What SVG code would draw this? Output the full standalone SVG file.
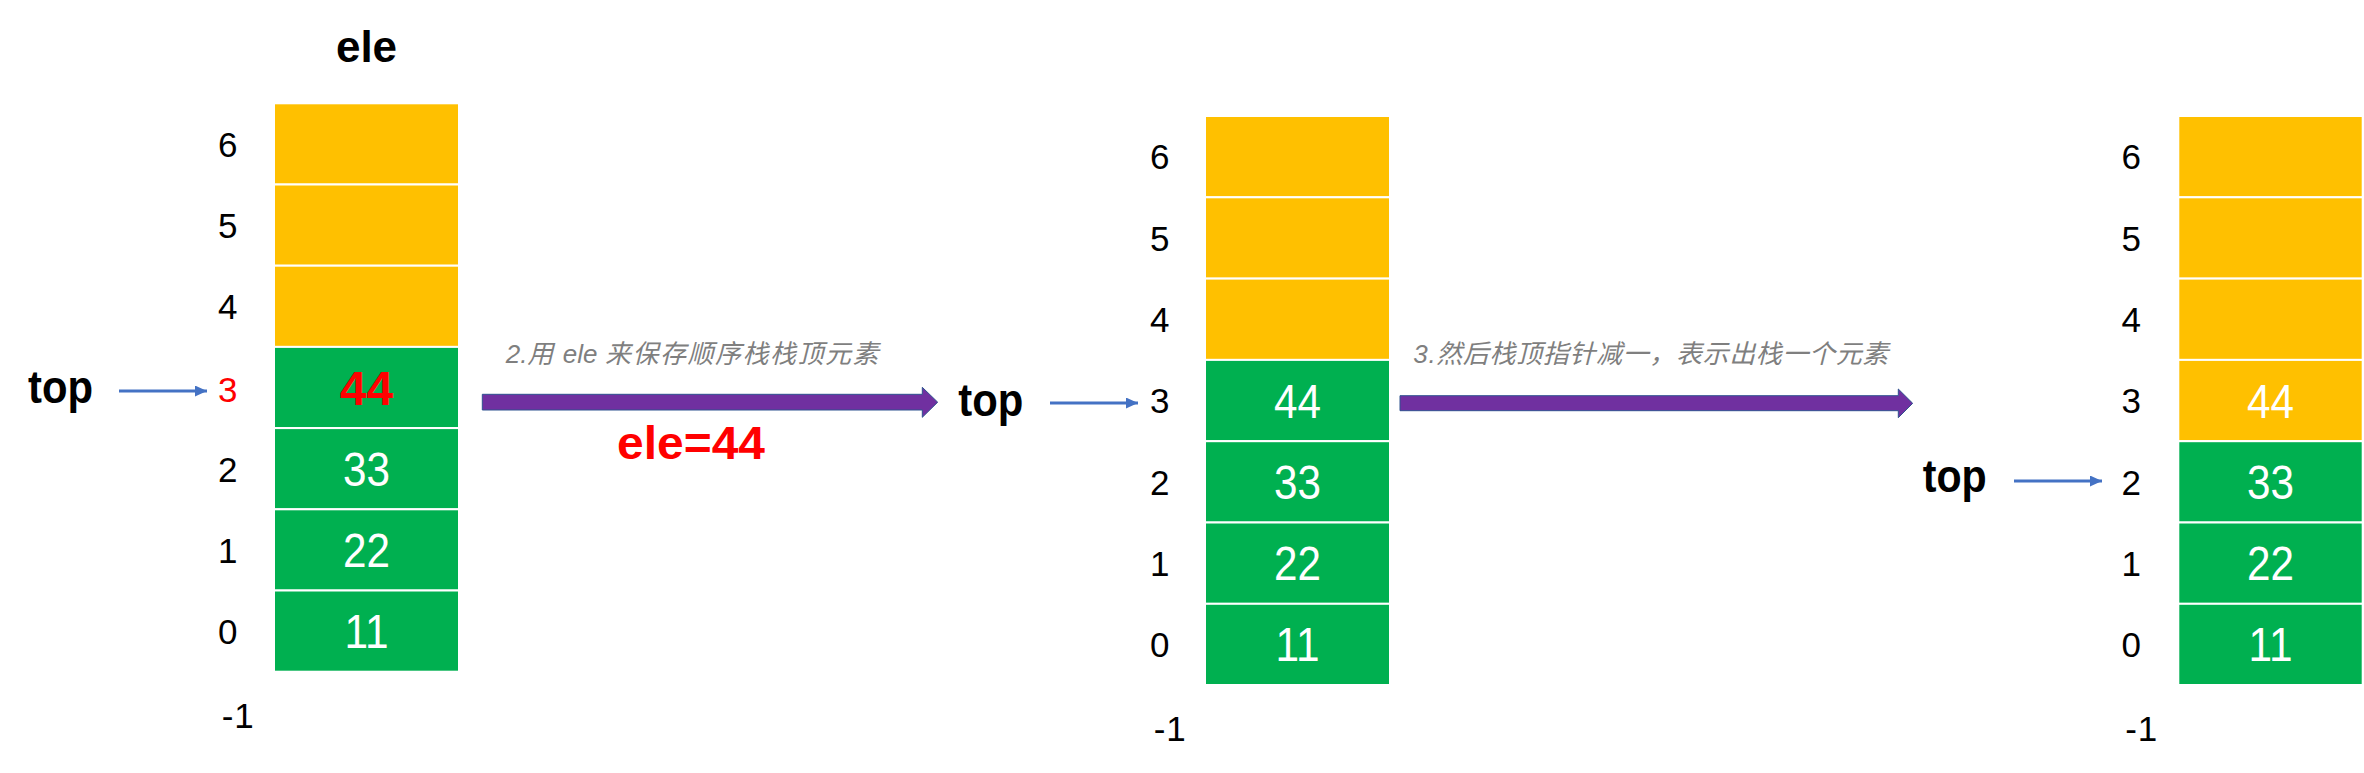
<svg xmlns="http://www.w3.org/2000/svg" width="2364" height="773" viewBox="0 0 2364 773">
<style>
.y{fill:#FFC000;stroke:#fff;stroke-width:2}
.g{fill:#00B050;stroke:#fff;stroke-width:2}
.idx{font-family:"Liberation Sans",Arial,sans-serif;font-size:35px;fill:#000;text-anchor:middle}
.val{font-family:"Liberation Sans",Arial,sans-serif;font-size:48px;fill:#fff;text-anchor:middle}
.top{font-family:"Liberation Sans",Arial,sans-serif;font-size:46px;font-weight:bold;fill:#000}
.cap{font-family:"Liberation Sans","Noto Sans CJK SC",sans-serif;font-size:26px;font-style:italic;fill:#7F7F7F}
.ptr{stroke:#4472C4;stroke-width:3;fill:none}
.big{fill:#7030A0;stroke:#2F528F;stroke-width:1}
</style>
<defs>
<marker id="ah" markerUnits="userSpaceOnUse" markerWidth="13" markerHeight="12" refX="12" refY="5.5" orient="auto">
<path d="M0,0 L12,5.5 L0,11 z" fill="#4472C4"/>
</marker>
</defs>

<g id="stack1">
<text x="366.5" y="62" font-family="Liberation Sans,Arial,sans-serif" font-size="44" font-weight="bold" text-anchor="middle">ele</text>
<rect class="y" x="274" y="103.3" width="185" height="81.2"/>
<rect class="y" x="274" y="184.5" width="185" height="81.2"/>
<rect class="y" x="274" y="265.7" width="185" height="81.2"/>
<rect class="g" x="274" y="346.9" width="185" height="81.2"/>
<rect class="g" x="274" y="428.1" width="185" height="81.2"/>
<rect class="g" x="274" y="509.3" width="185" height="81.2"/>
<rect class="g" x="274" y="590.5" width="185" height="81.2"/>
<text class="val" x="366.5" y="405" style="fill:#FF0000;font-weight:bold">44</text>
<text class="val" x="366.5" y="486" textLength="47" lengthAdjust="spacingAndGlyphs">33</text>
<text class="val" x="366.5" y="567" textLength="47" lengthAdjust="spacingAndGlyphs">22</text>
<text class="val" x="366.5" y="648" textLength="44" lengthAdjust="spacingAndGlyphs">11</text>
<text class="idx" x="227.7" y="156.7">6</text>
<text class="idx" x="227.7" y="237.9">5</text>
<text class="idx" x="227.7" y="319.1">4</text>
<text class="idx" x="227.7" y="401.5" style="fill:#FF0000">3</text>
<text class="idx" x="227.7" y="481.5">2</text>
<text class="idx" x="227.7" y="562.7">1</text>
<text class="idx" x="227.7" y="644">0</text>
<text class="idx" x="221.7" y="728" style="text-anchor:start" textLength="32" lengthAdjust="spacing">-1</text>
<text class="top" x="28" y="402.7" textLength="65" lengthAdjust="spacingAndGlyphs">top</text>
</g>

<g id="stack2">
<rect class="y" x="1205" y="116" width="185" height="81.3"/>
<rect class="y" x="1205" y="197.3" width="185" height="81.3"/>
<rect class="y" x="1205" y="278.6" width="185" height="81.3"/>
<rect class="g" x="1205" y="359.9" width="185" height="81.3"/>
<rect class="g" x="1205" y="441.2" width="185" height="81.3"/>
<rect class="g" x="1205" y="522.5" width="185" height="81.3"/>
<rect class="g" x="1205" y="603.8" width="185" height="81.2"/>
<text class="val" x="1297.5" y="417.5" textLength="47" lengthAdjust="spacingAndGlyphs">44</text>
<text class="val" x="1297.5" y="498.8" textLength="47" lengthAdjust="spacingAndGlyphs">33</text>
<text class="val" x="1297.5" y="580.1" textLength="47" lengthAdjust="spacingAndGlyphs">22</text>
<text class="val" x="1297.5" y="661.4" textLength="44" lengthAdjust="spacingAndGlyphs">11</text>
<text class="idx" x="1159.7" y="169.4">6</text>
<text class="idx" x="1159.7" y="250.7">5</text>
<text class="idx" x="1159.7" y="332">4</text>
<text class="idx" x="1159.7" y="413.3">3</text>
<text class="idx" x="1159.7" y="494.6">2</text>
<text class="idx" x="1159.7" y="575.9">1</text>
<text class="idx" x="1159.7" y="657.2">0</text>
<text class="idx" x="1153.7" y="741" style="text-anchor:start" textLength="32" lengthAdjust="spacing">-1</text>
<text class="top" x="958.3" y="415.6" textLength="65" lengthAdjust="spacingAndGlyphs">top</text>
</g>

<g id="stack3">
<rect class="y" x="2178.3" y="116" width="184.4" height="81.3"/>
<rect class="y" x="2178.3" y="197.3" width="184.4" height="81.3"/>
<rect class="y" x="2178.3" y="278.6" width="184.4" height="81.3"/>
<rect class="y" x="2178.3" y="359.9" width="184.4" height="81.3"/>
<rect class="g" x="2178.3" y="441.2" width="184.4" height="81.3"/>
<rect class="g" x="2178.3" y="522.5" width="184.4" height="81.3"/>
<rect class="g" x="2178.3" y="603.8" width="184.4" height="81.2"/>
<text class="val" x="2270.5" y="417.5" textLength="47" lengthAdjust="spacingAndGlyphs">44</text>
<text class="val" x="2270.5" y="498.8" textLength="47" lengthAdjust="spacingAndGlyphs">33</text>
<text class="val" x="2270.5" y="580.1" textLength="47" lengthAdjust="spacingAndGlyphs">22</text>
<text class="val" x="2270.5" y="661.4" textLength="44" lengthAdjust="spacingAndGlyphs">11</text>
<text class="idx" x="2131.3" y="169.4">6</text>
<text class="idx" x="2131.3" y="250.7">5</text>
<text class="idx" x="2131.3" y="332">4</text>
<text class="idx" x="2131.3" y="413.3">3</text>
<text class="idx" x="2131.3" y="494.6">2</text>
<text class="idx" x="2131.3" y="575.9">1</text>
<text class="idx" x="2131.3" y="657.2">0</text>
<text class="idx" x="2125.3" y="741" style="text-anchor:start" textLength="32" lengthAdjust="spacing">-1</text>
<text class="top" x="1922.7" y="491.7" textLength="64" lengthAdjust="spacingAndGlyphs">top</text>
</g>

<g id="connectors">
<line class="ptr" x1="119" y1="391" x2="207" y2="391" marker-end="url(#ah)"/>
<line class="ptr" x1="1050" y1="403" x2="1138" y2="403" marker-end="url(#ah)"/>
<line class="ptr" x1="2014" y1="481" x2="2102" y2="481" marker-end="url(#ah)"/>
<polygon class="big" points="482.3,394.3 922.3,394.3 922.3,387.3 937.7,402.2 922.3,417.3 922.3,410 482.3,410"/>
<polygon class="big" points="1400,395.7 1898.3,395.7 1898.3,389 1912.7,403.3 1898.3,417.7 1898.3,410.7 1400,410.7"/>
<text class="cap" y="363"><tspan x="505.7">2.用</tspan><tspan x="562.7">ele</tspan><tspan x="605" letter-spacing="1.5">来保存顺序栈栈顶元素</tspan></text>
<text x="691" y="459.3" font-family="Liberation Sans,Arial,sans-serif" font-size="46" font-weight="bold" fill="#FF0000" text-anchor="middle" textLength="148" lengthAdjust="spacingAndGlyphs">ele=44</text>
<text class="cap" x="1413.3" y="363" textLength="475" lengthAdjust="spacing">3.然后栈顶指针减一，表示出栈一个元素</text>
</g>
</svg>
